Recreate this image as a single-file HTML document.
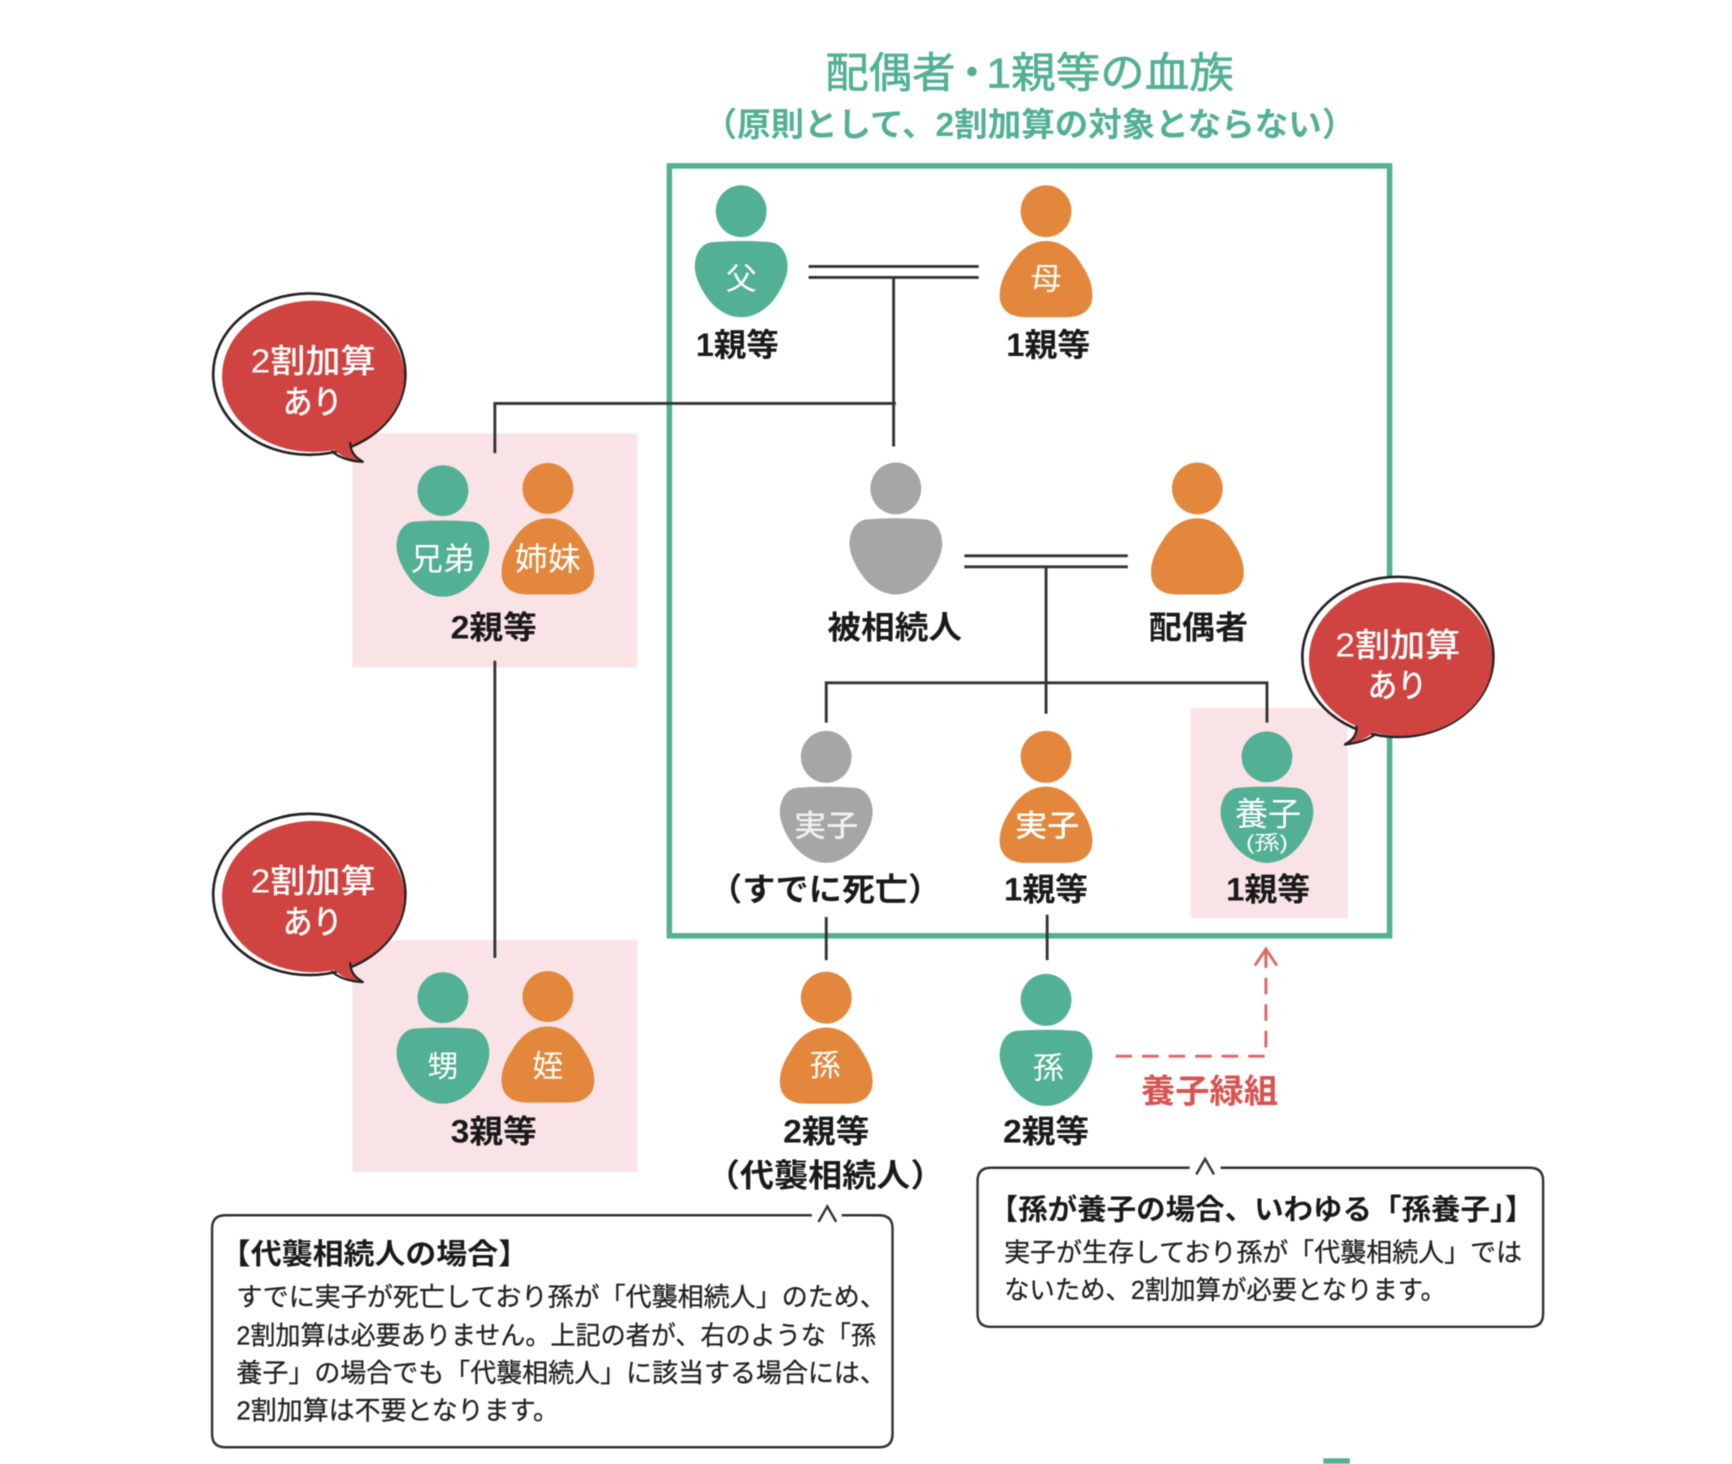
<!DOCTYPE html>
<html lang="ja"><head><meta charset="utf-8"><title>親等図</title>
<style>
html,body{margin:0;padding:0;background:#fff}
svg{display:block;width:1732px;height:1464px;filter:blur(.5px)}
text{font-family:"Liberation Sans","Noto Sans CJK JP",sans-serif}
.l{font-size:29px;font-weight:700;fill:#1a1a1a}
.w{font-size:28px;fill:#fff;text-anchor:middle}
.r{font-size:30px;fill:#fff;font-weight:500}
.h{font-size:26px;font-weight:700;fill:#1a1a1a}
.b{font-size:23.5px;fill:#222;stroke:#222;stroke-width:.25}
.t{font-size:38px;fill:#52b094;stroke:#52b094;stroke-width:.6}
.ln{stroke:#333;stroke-width:2.6;fill:none}
</style></head><body>
<svg viewBox="0 0 1568 1325" xmlns="http://www.w3.org/2000/svg">
<defs>
<path id="m" d="M-26 28Q0 26 26 28C37 29 42 40 42 50C42 60 36 72 28 82C20 91 10 96 0 96C-10 96-20 91-28 82C-36 72-42 60-42 50C-42 40-37 29-26 28Z"/>
<path id="f" d="M0 27C14 27 25 36 32 48C38 57 42 66 42 76C42 90 32 96 18 96L-18 96C-32 96-42 90-42 76C-42 66-38 57-32 48C-25 36-14 27 0 27Z"/>
<g id="bub">
<ellipse cx="280" cy="338.5" rx="87" ry="73" fill="#fff" stroke="#222" stroke-width="2.4"/>
<ellipse cx="283.5" cy="340.5" rx="82.5" ry="68.5" fill="#cf4440"/>
<path d="M298 402Q310 417 329 418Q317 412 317 398Z" fill="#cf4440"/>
<path d="M300 408Q310 417 329 418Q317 412 317 400" fill="none" stroke="#222" stroke-width="2"/>
<text class="r" x="227" y="337" textLength="113" lengthAdjust="spacingAndGlyphs">2割加算</text>
<text class="r" x="256" y="374" textLength="54" lengthAdjust="spacingAndGlyphs">あり</text>
</g>
</defs>

<!-- title -->
<text class="t" x="747" y="79" textLength="118" lengthAdjust="spacingAndGlyphs">配偶者</text>
<text class="t" x="861" y="79">・</text>
<text class="t" x="893" y="79" textLength="224" lengthAdjust="spacingAndGlyphs">1親等の血族</text>
<text x="637" y="123" font-size="30" font-weight="700" fill="#52b094" textLength="590" lengthAdjust="spacingAndGlyphs">（原則として、2割加算の対象とならない）</text>

<!-- pink boxes -->
<rect x="319" y="392" width="258" height="212" fill="#fae3e6"/>
<rect x="319" y="851" width="258" height="210" fill="#fae3e6"/>

<!-- green frame -->
<rect x="606" y="150" width="652" height="697" fill="none" stroke="#52b094" stroke-width="5"/>
<rect x="1078" y="641" width="142" height="190" fill="#fae3e6"/>

<!-- lines -->
<path class="ln" d="M732 241H886M732 251H886M809 251V404M448 410V365H811"/>
<path class="ln" d="M873 503H1021M873 513H1021M947 513V646M748 654V618H1147V654"/>
<path class="ln" d="M448 598V867M748 830V869M948 828V869"/>

<!-- dashed arrow -->
<path d="M1010 956H1146V868" fill="none" stroke="#e06666" stroke-width="2.6" stroke-dasharray="15 9"/>
<path d="M1136 874L1146 859L1156 874M1146 860V874" fill="none" stroke="#e06666" stroke-width="2.6"/>
<text x="1033" y="998" font-size="30" font-weight="700" fill="#d9534f" textLength="124" lengthAdjust="spacingAndGlyphs">養子緑組</text>

<!-- people -->
<g fill="#52b094"><ellipse cx="671" cy="191" rx="23" ry="23.5"/><use href="#m" x="671" y="191"/></g>
<g fill="#e2873c"><ellipse cx="947" cy="191" rx="23" ry="23.5"/><use href="#f" x="947" y="191"/></g>
<g fill="#52b094"><circle cx="401" cy="444" r="23"/><use href="#m" x="401" y="444"/></g>
<g fill="#e2873c"><circle cx="496" cy="442" r="23"/><use href="#f" x="496" y="442"/></g>
<g fill="#a6a6a6"><ellipse cx="811" cy="442" rx="23" ry="23.5"/><use href="#m" x="811" y="442"/></g>
<g fill="#e2873c"><ellipse cx="1084" cy="442" rx="23" ry="23.5"/><use href="#f" x="1084" y="442"/></g>
<g fill="#a6a6a6"><ellipse cx="748" cy="685" rx="23" ry="23.5"/><use href="#m" x="748" y="685"/></g>
<g fill="#e2873c"><ellipse cx="947" cy="685" rx="23" ry="23.5"/><use href="#f" x="947" y="685"/></g>
<g fill="#52b094"><circle cx="1147" cy="685" r="23"/><use href="#m" x="1147" y="685"/></g>
<g fill="#52b094"><circle cx="401" cy="903" r="23"/><use href="#m" x="401" y="903"/></g>
<g fill="#e2873c"><circle cx="496" cy="902" r="23"/><use href="#f" x="496" y="902"/></g>
<g fill="#e2873c"><ellipse cx="748" cy="903" rx="23" ry="23.5"/><use href="#f" x="748" y="903"/></g>
<g fill="#52b094"><ellipse cx="947" cy="905" rx="23" ry="23.5"/><use href="#m" x="947" y="905"/></g>

<!-- white labels in bodies -->
<text class="w" x="671" y="262">父</text>
<text class="w" x="947" y="262">母</text>
<text class="w" x="401" y="516" textLength="58" lengthAdjust="spacingAndGlyphs" style="font-size:29px">兄弟</text>
<text class="w" x="496" y="516" textLength="60" lengthAdjust="spacingAndGlyphs" style="font-size:29px">姉妹</text>
<text class="w" x="748" y="757" textLength="58" lengthAdjust="spacingAndGlyphs" style="fill:#f0f0f0;font-weight:500">実子</text>
<text class="w" x="948" y="757" textLength="58" lengthAdjust="spacingAndGlyphs" style="font-weight:500">実子</text>
<text class="w" x="1148" y="747" textLength="60" lengthAdjust="spacingAndGlyphs" style="font-size:30px">養子</text>
<text class="w" x="1147" y="769" textLength="38" lengthAdjust="spacingAndGlyphs" style="font-size:18px">(孫)</text>
<text class="w" x="401" y="975">甥</text>
<text class="w" x="496" y="975">姪</text>
<text class="w" x="747" y="974">孫</text>
<text class="w" x="949" y="976">孫</text>

<!-- degree labels -->
<text class="l" x="630" y="322" textLength="75" lengthAdjust="spacingAndGlyphs">1親等</text>
<text class="l" x="911" y="322" textLength="76" lengthAdjust="spacingAndGlyphs">1親等</text>
<text class="l" x="408" y="578" textLength="78" lengthAdjust="spacingAndGlyphs">2親等</text>
<text class="l" x="749" y="578" textLength="122" lengthAdjust="spacingAndGlyphs">被相続人</text>
<text class="l" x="1040" y="578" textLength="90" lengthAdjust="spacingAndGlyphs">配偶者</text>
<text class="l" x="642" y="815" textLength="210" lengthAdjust="spacingAndGlyphs">（すでに死亡）</text>
<text class="l" x="909" y="815" textLength="76" lengthAdjust="spacingAndGlyphs">1親等</text>
<text class="l" x="1110" y="815" textLength="76" lengthAdjust="spacingAndGlyphs">1親等</text>
<text class="l" x="408" y="1034" textLength="78" lengthAdjust="spacingAndGlyphs">3親等</text>
<text class="l" x="709" y="1034" textLength="78" lengthAdjust="spacingAndGlyphs">2親等</text>
<text class="l" x="639" y="1074" textLength="216" lengthAdjust="spacingAndGlyphs">（代襲相続人）</text>
<text class="l" x="908" y="1034" textLength="78" lengthAdjust="spacingAndGlyphs">2親等</text>

<!-- bubbles -->
<use href="#bub"/>
<use href="#bub" y="471"/>
<g>
<ellipse cx="1265.5" cy="594.5" rx="86.5" ry="72.5" fill="#fff" stroke="#222" stroke-width="2.4"/>
<ellipse cx="1268" cy="596.5" rx="83" ry="69.5" fill="#cf4440"/>
<path d="M1248 658Q1236 672 1217 674Q1229 668 1228 653Z" fill="#cf4440"/>
<path d="M1246 664Q1236 672 1217 674Q1229 668 1228 657" fill="none" stroke="#222" stroke-width="2"/>
<text class="r" x="1209" y="594" textLength="113" lengthAdjust="spacingAndGlyphs">2割加算</text>
<text class="r" x="1238" y="631" textLength="54" lengthAdjust="spacingAndGlyphs">あり</text>
</g>

<!-- note boxes -->
<path d="M735 1100H204Q192 1100 192 1112V1298Q192 1310 204 1310H796Q808 1310 808 1298V1112Q808 1100 796 1100H762" fill="none" stroke="#333" stroke-width="2.2"/>
<path d="M741 1106L749 1092L757 1106" fill="none" stroke="#333" stroke-width="2.2"/>
<path d="M1077 1057H897Q885 1057 885 1069V1189Q885 1201 897 1201H1385Q1397 1201 1397 1189V1069Q1397 1057 1385 1057H1105" fill="none" stroke="#333" stroke-width="2.2"/>
<path d="M1083 1063L1091 1049L1099 1063" fill="none" stroke="#333" stroke-width="2.2"/>

<text class="h" x="199" y="1144" textLength="280" lengthAdjust="spacingAndGlyphs">【代襲相続人の場合】</text>
<text class="b" x="214" y="1182" textLength="588" lengthAdjust="spacingAndGlyphs">すでに実子が死亡しており孫が「代襲相続人」のため、</text>
<text class="b" x="214" y="1217" textLength="579" lengthAdjust="spacingAndGlyphs">2割加算は必要ありません。上記の者が、右のような「孫</text>
<text class="b" x="214" y="1251" textLength="588" lengthAdjust="spacingAndGlyphs">養子」の場合でも「代襲相続人」に該当する場合には、</text>
<text class="b" x="214" y="1285" textLength="292" lengthAdjust="spacingAndGlyphs">2割加算は不要となります。</text>

<text class="h" x="895" y="1104" textLength="494" lengthAdjust="spacingAndGlyphs">【孫が養子の場合、いわゆる「孫養子」】</text>
<text class="b" x="909" y="1142" textLength="469" lengthAdjust="spacingAndGlyphs">実子が生存しており孫が「代襲相続人」では</text>
<text class="b" x="909" y="1176" textLength="400" lengthAdjust="spacingAndGlyphs">ないため、2割加算が必要となります。</text>

<rect x="1198" y="1320" width="24" height="5" fill="#52b094"/>
</svg>
</body></html>
